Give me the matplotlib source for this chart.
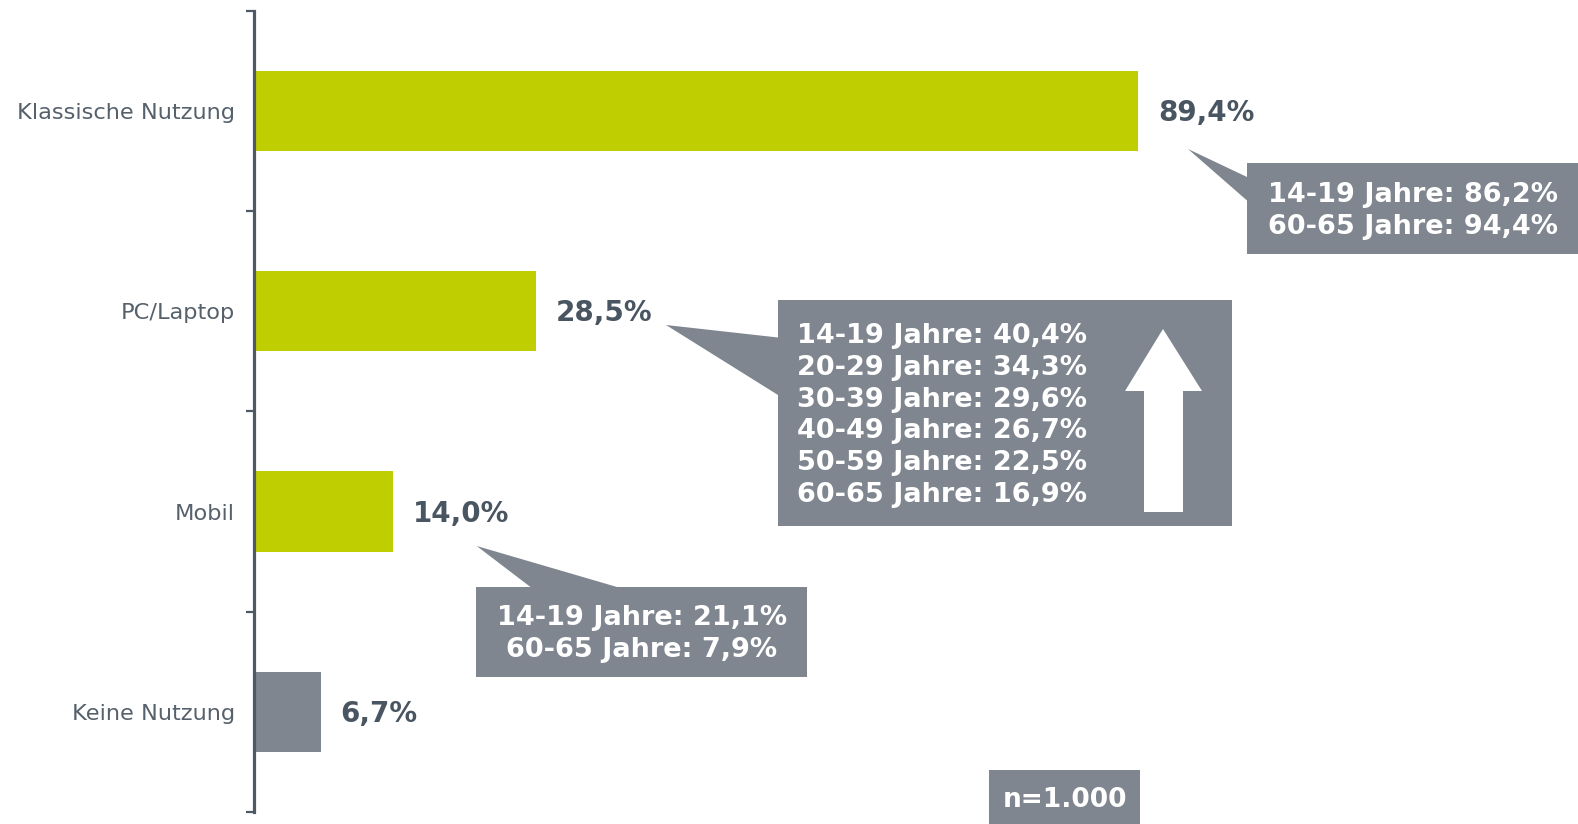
import matplotlib
matplotlib.use("Agg")
import matplotlib.pyplot as plt
from matplotlib.patches import Polygon
from matplotlib.transforms import Affine2D

# ---------------- data ----------------
categories = ["Klassische Nutzung", "PC/Laptop", "Mobil", "Keine Nutzung"]
values = [89.4, 28.5, 14.0, 6.7]
bar_kinds = ["use", "use", "use", "none"]

callout_klassisch = ["14-19 Jahre: 86,2%", "60-65 Jahre: 94,4%"]
callout_pc = ["14-19 Jahre: 40,4%", "20-29 Jahre: 34,3%", "30-39 Jahre: 29,6%",
              "40-49 Jahre: 26,7%", "50-59 Jahre: 22,5%", "60-65 Jahre: 16,9%"]
callout_mobil = ["14-19 Jahre: 21,1%", "60-65 Jahre: 7,9%"]
sample_note = "n=1.000"

# ---------------- style ----------------
W, H = 1578, 824
GREEN = "#BFCE00"
GREY = "#7F868F"
DARK = "#4A5562"
LABEL = "#56616C"
SPINE = "#4F5964"
BOX_FS = 19.5

fig = plt.figure(figsize=(W / 100, H / 100), dpi=100)
fig.patch.set_facecolor("white")

# axes placed in pixel terms
ax_left, ax_right, ax_top, ax_bottom = 254.3, 1578, 10.7, 812
ax = fig.add_axes([ax_left / W, 1 - ax_bottom / H,
                   (ax_right - ax_left) / W, (ax_bottom - ax_top) / H])

y = list(range(len(categories)))
colors = [GREEN if k == "use" else GREY for k in bar_kinds]
ax.barh(y, values, height=0.4, color=colors, zorder=2)

px_per_unit = (1138 - ax_left) / 89.4
ax.set_xlim(0, (ax_right - ax_left) / px_per_unit)
ax.set_ylim(len(categories) - 0.5, -0.5)

for s in ["top", "right", "bottom"]:
    ax.spines[s].set_visible(False)
ax.spines["left"].set_color(SPINE)
ax.spines["left"].set_linewidth(2.3)
ax.set_xticks([])

ax.set_yticks(y)
ax.set_yticklabels(categories, fontsize=16.2, color=LABEL, family="DejaVu Sans")
for lab in ax.get_yticklabels():
    lab.set_verticalalignment("center_baseline")
ax.tick_params(axis="y", which="major", length=0, pad=14)
ax.set_yticks([i - 0.5 for i in range(len(categories) + 1)], minor=True)
ax.tick_params(axis="y", which="minor", length=5.5, width=1.6, color=SPINE)

for yi, v in zip(y, values):
    ax.annotate(f"{v:.1f}".replace(".", ",") + "%", xy=(v, yi),
                xytext=(14.5, -1.5), textcoords="offset points",
                ha="left", va="center", fontsize=20, fontweight="bold",
                color=DARK, family="DejaVu Sans")

# ---------------- callouts (pixel coordinates, y down) ----------------
tpx = Affine2D().scale(1 / W, -1 / H).translate(0, 1) + fig.transFigure

def poly(pts, color):
    fig.patches.append(Polygon(pts, closed=True, facecolor=color,
                               edgecolor="none", transform=tpx, zorder=3))

# box 1 (Klassische Nutzung)
poly([(1247, 163), (1578, 163), (1578, 254), (1247, 254), (1247, 200.5),
      (1188, 149), (1247, 177)], GREY)
for i, line in enumerate(callout_klassisch):
    fig.text(1413, 195 + i * 32.5, line, transform=tpx, ha="center",
             va="center", fontsize=BOX_FS, fontweight="bold", color="white",
             family="DejaVu Sans", zorder=4)

# box 2 (PC/Laptop)
poly([(778, 300), (1232, 300), (1232, 526), (778, 526), (778, 395),
      (666, 325), (778, 337.5)], GREY)
for i, line in enumerate(callout_pc):
    fig.text(797, 336 + i * 31.8, line, transform=tpx, ha="left",
             va="center", fontsize=BOX_FS, fontweight="bold", color="white",
             family="DejaVu Sans", zorder=4)
# white arrow
poly([(1144, 512), (1183, 512), (1183, 391), (1202, 391), (1163, 329),
      (1125, 391), (1144, 391)], "white")

# box 3 (Mobil)
poly([(476, 587), (530.5, 587), (476.7, 546), (617, 587), (807, 587),
      (807, 677), (476, 677)], GREY)
for i, line in enumerate(callout_mobil):
    fig.text(642, 618.5 + i * 31.5, line, transform=tpx, ha="center",
             va="center", fontsize=BOX_FS, fontweight="bold", color="white",
             family="DejaVu Sans", zorder=4)

# sample size box
poly([(989, 770), (1140, 770), (1140, 824), (989, 824)], GREY)
fig.text(1065, 800, sample_note, transform=tpx, ha="center", va="center",
         fontsize=19, fontweight="bold", color="white",
         family="DejaVu Sans", zorder=4)

fig.savefig("out.png", dpi=100, facecolor="white")
